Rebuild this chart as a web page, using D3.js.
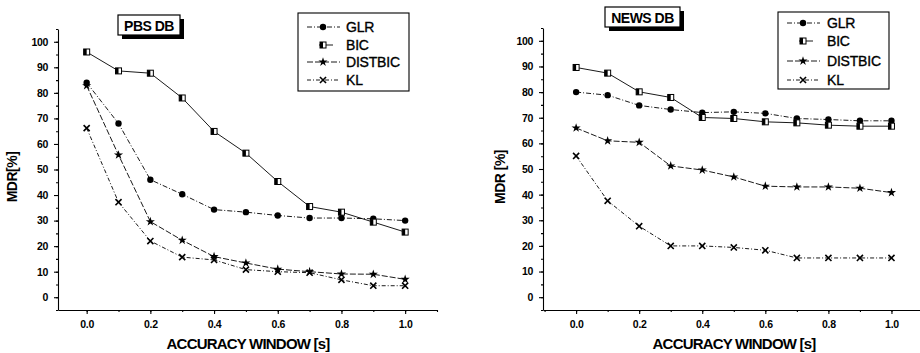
<!DOCTYPE html>
<html>
<head>
<meta charset="utf-8">
<script src="https://cdn.jsdelivr.net/npm/d3@7"></script>
<style>
  body { margin: 0; background: #fff; }
  svg { display: block; }
  text { font-family: "Liberation Sans", Arial, sans-serif; fill: #000; }
</style>
</head>
<body>
<svg id="chart" width="920" height="353"></svg>
<script>
// accuracy window [s]
const windows = [0.0, 0.1, 0.2, 0.3, 0.4, 0.5, 0.6, 0.7, 0.8, 0.9, 1.0];
const seriesNames = ["GLR", "BIC", "DISTBIC", "KL"];
const xTicks = [0.0, 0.2, 0.4, 0.6, 0.8, 1.0];
const yTicks = [0, 10, 20, 30, 40, 50, 60, 70, 80, 90, 100];

// PBS DB, MDR [%]
const pbsGLR     = [84, 68, 46, 40.3, 34.3, 33.3, 32, 31, 31, 30.7, 30];
const pbsBIC     = [96, 88.6, 87.7, 78, 64.9, 56.4, 45.3, 35.5, 33.3, 29.4, 25.5];
const pbsDISTBIC = [82.8, 55.7, 29.6, 22.3, 15.9, 13.4, 11, 10, 9.1, 9, 7];
const pbsKL      = [66.2, 37.2, 22, 15.7, 14.6, 10.8, 10, 9.6, 6.8, 4.5, 4.5];

// NEWS DB, MDR [%]
const newsGLR     = [80, 78.8, 74.8, 73.2, 72, 72.3, 71.7, 69.7, 69.3, 68.8, 68.8];
const newsBIC     = [89.6, 87.4, 80.1, 77.9, 70.1, 69.7, 68.4, 68, 67.1, 66.7, 66.7];
const newsDISTBIC = [66, 61, 60.4, 51.2, 49.6, 46.9, 43.3, 43, 43, 42.5, 40.8];
const newsKL      = [55.1, 37.6, 27.7, 20, 20, 19.4, 18.3, 15.3, 15.3, 15.3, 15.3];

const svg = d3.select("#chart");

// line pattern per series
const dashes = { GLR: "5,2,1,2", BIC: null, DISTBIC: "6,2", KL: "4,2,1,2" };

function drawMarker(g, name, x, y) {
  if (name === "GLR") {
    g.append("circle").attr("cx", x).attr("cy", y).attr("r", 3.2).attr("fill", "#000");
  } else if (name === "BIC") {
    g.append("rect").attr("x", x - 3).attr("y", y - 3).attr("width", 6).attr("height", 6)
      .attr("fill", "#fff").attr("stroke", "#000").attr("stroke-width", 1);
    g.append("rect").attr("x", x - 3).attr("y", y - 3).attr("width", 3).attr("height", 6).attr("fill", "#000");
  } else if (name === "DISTBIC") {
    g.append("path").attr("transform", `translate(${x},${y})`)
      .attr("d", d3.symbol(d3.symbolStar, 26)()).attr("fill", "#000");
  } else {
    g.append("path").attr("transform", `translate(${x},${y})`)
      .attr("d", d3.symbol(d3.symbolTimes, 26)()).attr("fill", "none")
      .attr("stroke", "#000").attr("stroke-width", 1.6);
  }
}

function drawPanel(p) {
  const x = d3.scaleLinear().domain(p.xDomain).range(p.xRange);
  const y = d3.scaleLinear().domain([-5, 105]).range(p.yRange);
  const g = svg.append("g");

  // x axis
  g.append("g").attr("transform", `translate(0,${p.yRange[0]})`)
    .call(d3.axisBottom(x).tickValues(xTicks).tickFormat(d3.format(".1f"))
      .tickSize(4).tickPadding(7).tickSizeOuter(0));
  g.append("g").attr("transform", `translate(0,${p.yRange[0]})`)
    .call(d3.axisBottom(x).tickValues(d3.range(-0.1, 1.101, 0.1).filter(v => v >= p.xDomain[0]))
      .tickSize(2).tickFormat("").tickSizeOuter(0))
    .select(".domain").remove();

  // y axis
  g.append("g").attr("transform", `translate(${p.xRange[0]},0)`)
    .call(d3.axisLeft(y).tickValues(yTicks).tickSize(4).tickPadding(6).tickSizeOuter(0));
  g.append("g").attr("transform", `translate(${p.xRange[0]},0)`)
    .call(d3.axisLeft(y).tickValues(d3.range(-5, 105.1, 5)).tickSize(2).tickFormat("").tickSizeOuter(0))
    .select(".domain").remove();

  g.selectAll(".tick text").attr("font-size", 10.5).attr("font-weight", "bold")
    .attr("font-family", "'Liberation Sans', Arial, sans-serif").attr("letter-spacing", -0.3);
  g.selectAll(".domain, .tick line").attr("stroke", "#000").attr("stroke-width", 1.1);

  // axis titles
  g.append("text").attr("x", p.xTitleX).attr("y", 349).attr("text-anchor", "middle")
    .attr("font-size", 15).attr("font-weight", "bold").attr("letter-spacing", -0.8)
    .text("ACCURACY WINDOW [s]");
  g.append("text").attr("transform", `translate(${p.yTitleX},${p.yTitleY}) rotate(-90)`)
    .attr("text-anchor", "middle").attr("font-size", 14).attr("font-weight", "bold")
    .attr("letter-spacing", -0.5).text(p.yTitle);

  // series
  const line = d3.line().x((d, i) => x(windows[i])).y(d => y(d));
  seriesNames.forEach(name => {
    const vals = p.series[name];
    g.append("path").datum(vals).attr("d", line).attr("fill", "none")
      .attr("stroke", "#000").attr("stroke-width", 0.9)
      .attr("stroke-dasharray", dashes[name]);
    vals.forEach((v, i) => drawMarker(g, name, x(windows[i]), y(v)));
  });

  // title box with shadow
  const t = p.titleBox;
  g.append("rect").attr("x", t.x + 4).attr("y", t.y + 4).attr("width", t.w).attr("height", t.h).attr("fill", "#000");
  g.append("rect").attr("x", t.x).attr("y", t.y).attr("width", t.w).attr("height", t.h)
    .attr("fill", "#fff").attr("stroke", "#000").attr("stroke-width", 1.2);
  g.append("text").attr("x", t.x + t.w / 2).attr("y", t.y + t.h - 4).attr("text-anchor", "middle")
    .attr("font-size", 14).attr("font-weight", "bold").attr("letter-spacing", -0.5).text(p.title);

  // legend
  const L = p.legend;
  g.append("rect").attr("x", L.x).attr("y", L.y).attr("width", L.w).attr("height", L.h)
    .attr("fill", "#fff").attr("stroke", "#000").attr("stroke-width", 1.1);
  seriesNames.forEach((name, i) => {
    const ry = L.rows[i];
    const len = name === "BIC" ? [L.sym - 4, L.sym + 10] : [L.sym - 16, L.sym + 17];
    g.append("line").attr("x1", len[0]).attr("x2", len[1]).attr("y1", ry).attr("y2", ry)
      .attr("stroke", "#000").attr("stroke-width", 0.9).attr("stroke-dasharray", name === "BIC" ? null : dashes[name]);
    drawMarker(g, name, L.sym, ry);
    g.append("text").attr("x", L.text).attr("y", ry + 5).attr("font-size", 14)
      .attr("stroke", "#000").attr("stroke-width", 0.35)
      .attr("letter-spacing", -0.2).text(name);
  });
}

drawPanel({
  title: "PBS DB",
  yTitle: "MDR[%]",
  xDomain: [-0.09, 1.1], xRange: [58, 437],
  yRange: [310, 29],
  xTitleX: 248, yTitleX: 17, yTitleY: 177,
  titleBox: { x: 118, y: 15, w: 62, h: 20 },
  legend: { x: 298, y: 13, w: 111, h: 78, sym: 323, text: 346, rows: [27, 45, 62, 80] },
  series: { GLR: pbsGLR, BIC: pbsBIC, DISTBIC: pbsDISTBIC, KL: pbsKL }
});

drawPanel({
  title: "NEWS DB",
  yTitle: "MDR [%]",
  xDomain: [-0.105, 1.1], xRange: [543, 923],
  yRange: [310, 28],
  xTitleX: 734, yTitleX: 505, yTitleY: 177,
  titleBox: { x: 605, y: 7, w: 75, h: 20 },
  legend: { x: 778, y: 12, w: 111, h: 77, sym: 803, text: 827, rows: [23, 41, 61, 80] },
  series: { GLR: newsGLR, BIC: newsBIC, DISTBIC: newsDISTBIC, KL: newsKL }
});
</script>
</body>
</html>
